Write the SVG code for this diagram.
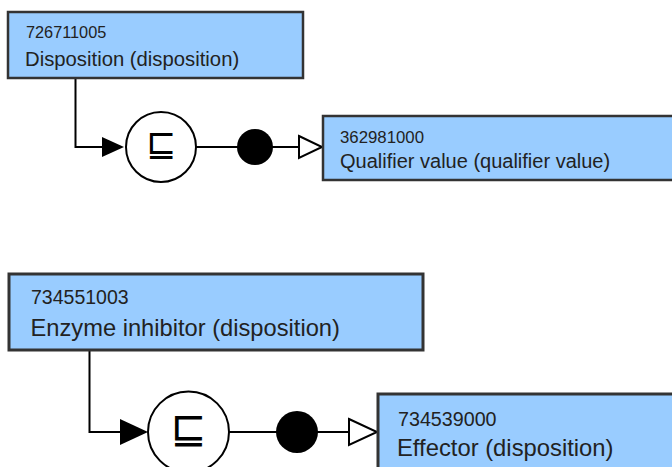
<svg xmlns="http://www.w3.org/2000/svg" width="672" height="467" viewBox="0 0 672 467">
<style>
.box{fill:#99CCFF;stroke:#333;}
.num{font-family:"Liberation Sans",Arial,sans-serif;fill:#222;}
.name{font-family:"Liberation Sans",Arial,sans-serif;fill:#222;}
.ln{fill:none;stroke:#000;stroke-width:2;}
.circ{fill:#fff;stroke:#000;stroke-width:2;}
.sym{font-family:"DejaVu Sans",sans-serif;fill:#000;text-anchor:middle;}
</style>
<rect width="672" height="467" fill="#fff"/>
<g id="connectors">
  <path class="ln" d="M75.5,79 V147 H104"/>
  <polygon points="102,137 124,147 102,157" fill="#000"/>
  <line class="ln" x1="196" y1="147" x2="300" y2="147"/>
  <circle cx="255" cy="147" r="18" fill="#000"/>
  <polygon points="299,136 322,147 299,158" fill="#fff" stroke="#000" stroke-width="2"/>

  <path class="ln" d="M89.5,351 V432 H124"/>
  <polygon points="120,419 148,432 120,445" fill="#000"/>
  <line class="ln" x1="229" y1="432" x2="350" y2="432"/>
  <circle cx="297" cy="432" r="21" fill="#000"/>
  <polygon points="349,419 377,432 349,445" fill="#fff" stroke="#000" stroke-width="2"/>
</g>
<g id="n726711005">
  <rect class="box" x="8" y="12" width="295" height="66" stroke-width="2.5"/>
  <text class="num" x="26" y="38" font-size="16.3">726711005</text>
  <text class="name" x="25" y="65.5" font-size="20.3">Disposition (disposition)</text>
</g>
<g id="op1">
  <circle class="circ" cx="161" cy="147" r="35"/>
  <text class="sym" x="161" y="156" font-size="36">⊑</text>
</g>
<g id="n362981000">
  <rect class="box" x="323" y="116" width="352" height="64" stroke-width="2.5"/>
  <text class="num" x="340" y="142.5" font-size="16.8">362981000</text>
  <text class="name" x="340" y="167.5" font-size="20">Qualifier value (qualifier value)</text>
</g>
<g id="n734551003">
  <rect class="box" x="9" y="274" width="414" height="76" stroke-width="3"/>
  <text class="num" x="31" y="304" font-size="19.5">734551003</text>
  <text class="name" x="30.5" y="335.5" font-size="23.7">Enzyme inhibitor (disposition)</text>
</g>
<g id="op2">
  <circle class="circ" cx="188.5" cy="432" r="40.5"/>
  <text class="sym" x="188.5" y="443" font-size="43">⊑</text>
</g>
<g id="n734539000">
  <rect class="box" x="378" y="394" width="300" height="80" stroke-width="3"/>
  <text class="num" x="398" y="425.5" font-size="19.7">734539000</text>
  <text class="name" x="397" y="456" font-size="23.8">Effector (disposition)</text>
</g>
</svg>
